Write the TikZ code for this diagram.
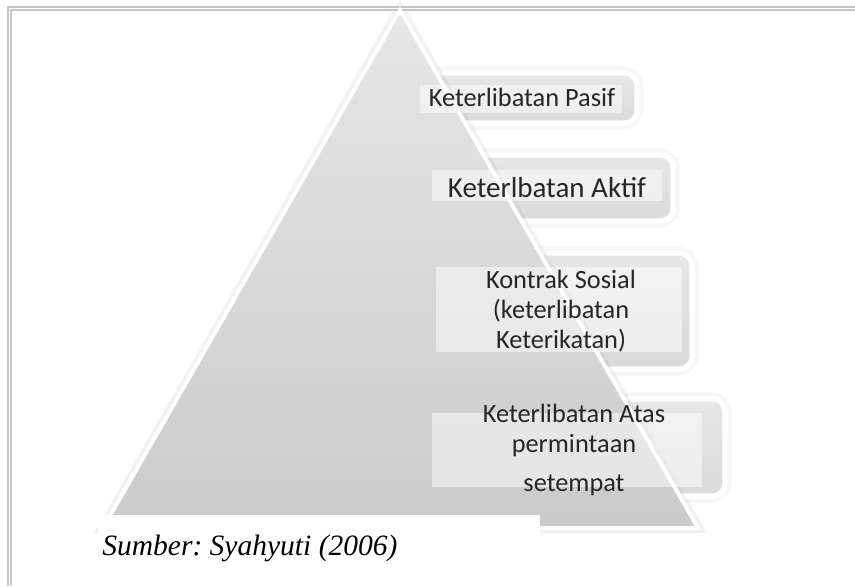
\documentclass[tikz,border=0pt]{standalone}
\usepackage{fontspec}
\setmainfont{Carlito}
\newfontfamily\srcfont{Liberation Serif}
\usepackage{tikz}
\definecolor{tritop}{HTML}{F4F4F4}
\definecolor{trimid}{HTML}{D6D6D6}
\definecolor{tribot}{HTML}{BCBCBC}
\definecolor{facetop}{HTML}{EEEEEE}
\definecolor{facebot}{HTML}{D8D8D8}
\definecolor{bevel}{HTML}{B4B4B4}
\frenchspacing

\begin{document}
\begin{tikzpicture}[x=0.02cm, y=-0.02cm]
% Define gradients
\pgfdeclareverticalshading{trigrad}{100bp}{
color(0bp)=(tribot);
color(45bp)=(trimid);
color(100bp)=(tritop)
}
\pgfdeclareverticalshading{boxgrad}{100bp}{
color(0bp)=(bevel);
color(10bp)=(facebot);
color(18bp)=(facebot);
color(100bp)=(facetop)
}
\tikzset{
  frm/.style={gray!45, line width=0.6pt},
  halo/.style={gray!60, line width=8pt, opacity=0.1, rounded corners=9pt},
  face/.style={draw=white, line width=3pt, rounded corners=7pt, shading=boxgrad},
  hilite/.style={fill=white, fill opacity=0.5, draw=none},
  lbl/.style={text=black!85, font=\fontsize{15pt}{15pt}\selectfont, inner sep=0pt, align=center}
}
\useasboundingbox (0,0) rectangle (855,586);

% Draw frame
\draw [frm] (8,586) -- (8,7) -- (855,7);
\draw [frm] (11,586) -- (11,10) -- (855,10);

% Draw level boxes (behind the pyramid)
\draw [halo] (400,73) rectangle (637,123);
\shadedraw [face] (400,73) rectangle (637,123);
\draw [halo] (430,155) rectangle (673,221);
\shadedraw [face] (430,155) rectangle (673,221);
\draw [halo] (470,253) rectangle (692,369);
\shadedraw [face] (470,253) rectangle (692,369);
\draw [halo] (540,399) rectangle (725,496);
\shadedraw [face] (540,399) rectangle (725,496);

% Draw pyramid
\coordinate (apex) at (400,10);
\coordinate (baseR) at (698,528);
\coordinate (baseL) at (103,528);
\draw [gray!70, line width=6pt, opacity=0.15] (apex) -- (baseR) -- (baseL) -- cycle;
\shadedraw [draw=white, line width=2.2pt, shading=trigrad] (apex) -- (baseR) -- (baseL) -- cycle;

% Draw text highlights
\fill [hilite] (420,85) rectangle (622,113);
\fill [hilite] (432,170) rectangle (662,201);
\fill [hilite] (436,267) rectangle (682,352);
\fill [hilite] (432,413) rectangle (702,487);

% Level labels
\node [lbl, anchor=base] (pasif) at (522,106) {Keterlibatan Pasif};
\node [lbl, anchor=base, font=\fontsize{16.5pt}{17pt}\selectfont] (aktif) at (547,197) {Keterlbatan Aktif};
\node [lbl] (kontrak) at (561,311) {Kontrak Sosial\\[2pt](keterlibatan\\[2pt]Keterikatan)};
\node [lbl] (atas) at (574,450) {Keterlibatan Atas\\[2pt]permintaan\\[7pt]setempat};

% Source note
\fill [white] (98,515) rectangle (540,586);
\node [anchor=base west, inner sep=0pt, font=\srcfont\itshape\fontsize{16.8pt}{18pt}\selectfont] (sumber) at (102,555) {Sumber: Syahyuti (2006)};

\end{tikzpicture}
\end{document}
